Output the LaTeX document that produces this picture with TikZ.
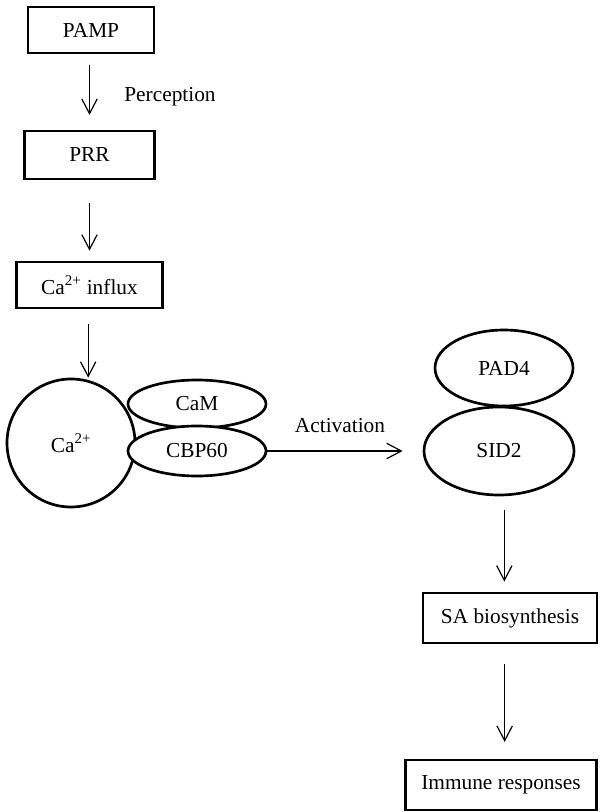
\documentclass[tikz,border=0pt]{standalone}
\usepackage{fontspec}
\setmainfont{Liberation Serif}
\usepackage{tikz}
\usetikzlibrary{arrows.meta,shapes.geometric}

\begin{document}
\begin{tikzpicture}[
  x=0.75pt, y=-0.75pt,
  every node/.style={font=\fontsize{16}{19}\selectfont},
  stage/.style={draw, line width=2.1pt, rectangle, inner sep=0pt},
  blob/.style={draw, line width=2pt, ellipse, fill=white, inner sep=0pt},
  flow/.style={-{Straight Barb[length=11pt, width=11.5pt, line width=0.9pt]}, line width=0.9pt}
]
  \path[use as bounding box] (0,0) rectangle (599,812);
  % linear part
  \node[stage, minimum width=94.5pt, minimum height=34.5pt] (PAMP) at (91,30) {PAMP};
  \node[stage, minimum width=98pt, minimum height=36pt] (PRR) at (89.5,155) {PRR};
  \node[stage, minimum width=110pt, minimum height=34.5pt] (influx) at (89.5,285) {Ca\textsuperscript{2+} influx};
  \draw[flow, shorten <=8pt, shorten >=11pt] (PAMP.south -| PRR.north) -- (PRR.north);
  \node (perc) at (170,97) {Perception};
  \draw[flow, shorten <=17pt, shorten >=7.5pt] (PRR.south) -- (influx.north);
  % calcium complex
  \node[draw, line width=2pt, circle, minimum size=96pt, inner sep=0pt] (Ca) at (71,443) {Ca\textsuperscript{2+}};
  \draw[flow, shorten <=11pt] ([xshift=-1pt]influx.south) -- ([xshift=-1pt]influx.south |- Ca.north);
  \node[blob, minimum width=103.5pt, minimum height=36pt] (CaM) at (197,404) {CaM};
  \node[blob, minimum width=103.5pt, minimum height=37.5pt] (CBP) at (197,451) {CBP60};
  % SA branch
  \node[blob, minimum width=103.5pt, minimum height=57pt] (PAD) at (504,368) {PAD4};
  \node[blob, minimum width=112.5pt, minimum height=66pt] (SID) at (499,451) {SID2};
  \draw[flow, shorten >=15pt] (CBP.east) -- (SID.west);
  \node (act) at (340,426) {Activation};
  \node[stage, minimum width=130.5pt, minimum height=37.5pt] (SA) at (510,618) {SA biosynthesis};
  \node[stage, minimum width=143pt, minimum height=37.5pt] (immune) at (501,785) {Immune responses};
  \draw[flow, shorten <=10pt, shorten >=7.5pt] ([xshift=4pt]SID.south) -- ([xshift=4pt]SID.south |- SA.north);
  \draw[flow, shorten <=15pt, shorten >=12.5pt] ([xshift=-4pt]SA.south) -- ([xshift=-4pt]SA.south |- immune.north);
\end{tikzpicture}
\end{document}
